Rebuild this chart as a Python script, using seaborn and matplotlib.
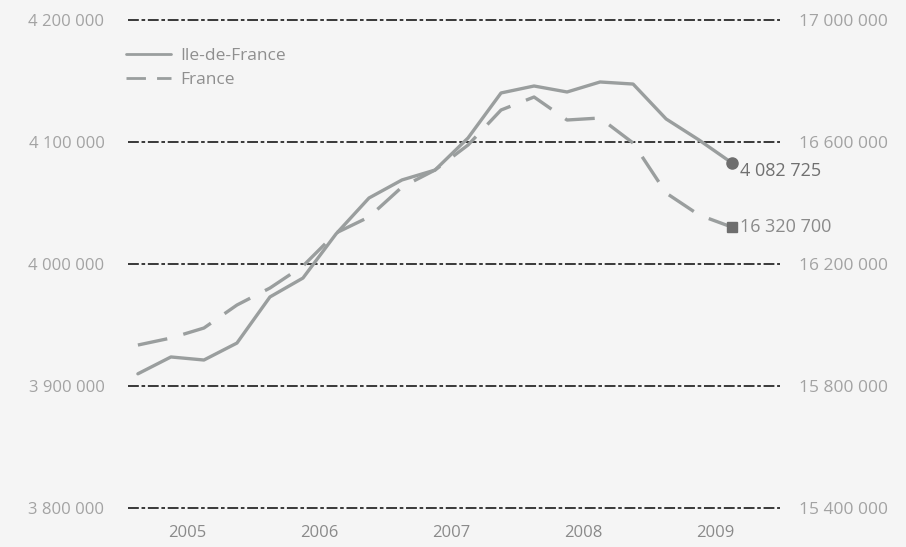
import matplotlib
matplotlib.use("Agg")
import matplotlib.pyplot as plt
import seaborn as sns
import pandas as pd
import numpy as np
from matplotlib.lines import Line2D

sns.set_theme(style="white")
plt.rcParams['font.family'] = ['Open Sans', 'DejaVu Sans']

# quarterly data 2005Q1 .. 2009Q3
quarters = ["2005T1", "2005T2", "2005T3", "2005T4",
            "2006T1", "2006T2", "2006T3", "2006T4",
            "2007T1", "2007T2", "2007T3", "2007T4",
            "2008T1", "2008T2", "2008T3", "2008T4",
            "2009T1", "2009T2", "2009T3"]
idf = [3910000, 3923800, 3921300, 3935200, 3973000, 3988500, 4024600, 4054100,
       4068900, 4077000, 4103300, 4140200, 4145900, 4141000, 4149200, 4147500,
       4118900, 4101600, 4082725]
france = [15934300, 15957300, 15990100, 16065500, 16121200, 16193400, 16301600,
          16354100, 16452400, 16508100, 16590100, 16704900, 16747500, 16672100,
          16678700, 16596700, 16432700, 16360600, 16320700]
years = ["2005", "2006", "2007", "2008", "2009"]
left_ticks = [3800000, 3900000, 4000000, 4100000, 4200000]
right_ticks = [15400000, 15800000, 16200000, 16600000, 17000000]

df = pd.DataFrame({"q": np.arange(len(quarters)), "idf": idf, "france": france})

def fmt(v):
    return f"{v:,.0f}".replace(",", " ")

W, H = 906, 547
bg = "#f5f5f5"
fig = plt.figure(figsize=(W / 100, H / 100), dpi=100)
fig.patch.set_facecolor(bg)
ax = fig.add_axes([128 / W, 1 - 508 / H, (780 - 128) / W, (508 - 20) / H])
ax.set_facecolor(bg)
ax2 = ax.twinx()

line_col = "#9a9e9e"
tick_col = "#a3a3a3"

for t in left_ticks:
    ax.axhline(t, color="#2a2a2a", lw=1.3, dashes=(6, 1.5, 2, 1.5), clip_on=False, zorder=1)

sns.lineplot(data=df, x="q", y="idf", ax=ax, color=line_col, lw=2.4, zorder=3)
sns.lineplot(data=df, x="q", y="france", ax=ax2, color=line_col, lw=2.4,
             dashes=False, zorder=3)
ax2.lines[-1].set_dashes((9, 5))

ax.set_xlim(-0.3, 19.45)
ax.set_ylim(left_ticks[0], left_ticks[-1])
ax2.set_ylim(right_ticks[0], right_ticks[-1])

ax.set_yticks(left_ticks)
ax.set_yticklabels([fmt(v) for v in left_ticks])
ax2.set_yticks(right_ticks)
ax2.set_yticklabels([fmt(v) for v in right_ticks])
ax.set_xticks([1.5, 5.5, 9.5, 13.5, 17.5])
ax.set_xticklabels(years)
ax.tick_params(axis="y", length=0, pad=17, labelsize=12, labelcolor=tick_col)
ax2.tick_params(axis="y", length=0, pad=14, labelsize=12.5, labelcolor=tick_col)
ax.tick_params(axis="x", length=0, pad=12, labelsize=12, labelcolor="#8a8a8a")
ax.set_xlabel("")
ax.set_ylabel("")
ax2.set_ylabel("")
for a in (ax, ax2):
    for s in a.spines.values():
        s.set_visible(False)
    a.grid(False)

# end markers and labels
ax.plot(df["q"].iloc[-1], idf[-1], marker="o", ms=8, color="#6e6e6e", zorder=5, clip_on=False)
ax2.plot(df["q"].iloc[-1], france[-1], marker="s", ms=7, color="#6e6e6e", zorder=5, clip_on=False)
ax.annotate(fmt(idf[-1]), (df["q"].iloc[-1], idf[-1]), xytext=(6, -6),
            textcoords="offset points", ha="left", va="center",
            fontsize=13, color="#707070")
ax2.annotate(fmt(france[-1]), (df["q"].iloc[-1], france[-1]), xytext=(6, 0),
             textcoords="offset points", ha="left", va="center",
             fontsize=13, color="#8a8a8a")

handles = [Line2D([0], [0], color=line_col, lw=2),
           Line2D([0], [0], color=line_col, lw=2, dashes=(7, 4))]
leg = ax.legend(handles, ["Ile-de-France", "France"], loc="upper left",
                bbox_to_anchor=(-0.027, 0.975), frameon=False, fontsize=12.5,
                handlelength=2.6, labelspacing=0.45, handletextpad=0.5)
for t in leg.get_texts():
    t.set_color("#8f8f8f")

fig.savefig("out.png", dpi=100, facecolor=fig.get_facecolor())
